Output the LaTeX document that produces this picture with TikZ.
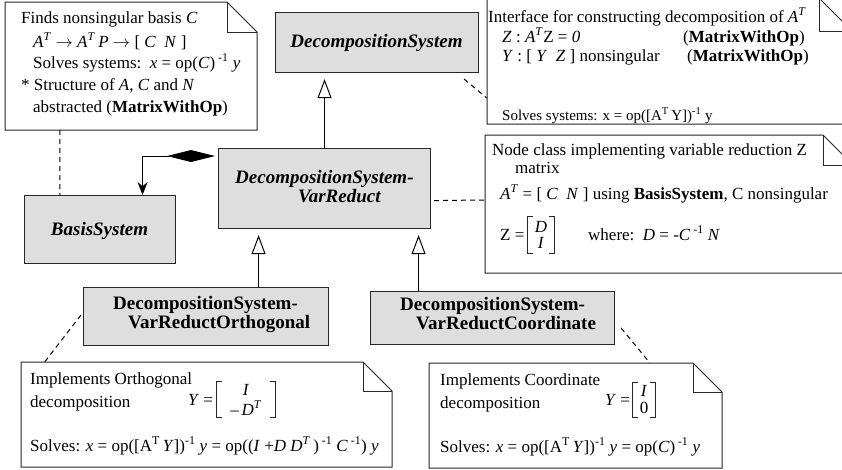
\documentclass[tikz,border=0pt]{standalone}
\usepackage{fontspec}
\setmainfont{Liberation Serif}
\usetikzlibrary{arrows.meta,fit}
\newcommand\umlnote[6]{%
  \draw[noteline] (#2,#3) -- (#4-#6,#3) -- (#4,#3+#6) -- (#4,#5) -- (#2,#5) -- cycle;
  \draw[notefold] (#4-#6,#3) -- (#4-#6,#3+#6) -- (#4,#3+#6);
  \path (#2,#3) coordinate (#1-nw) (#4,#5) coordinate (#1-se);
  \node[notebox, fit=(#1-nw)(#1-se)] (#1) {};
}
\newcommand\brackets[1]{%
  \draw[brk] ([xshift=5pt]#1.north west) -| (#1.south west) -- ++(5,0);
  \draw[brk] ([xshift=-5pt]#1.north east) -| (#1.south east) -- ++(-5,0);
}
\begin{document}
\begin{tikzpicture}[x=1pt,y=-1pt,
  cls/.style={draw=black!85, fill=black!13, line width=1.1pt, inner sep=0pt, anchor=north west},
  clsit/.style={font=\fontsize{19}{17}\selectfont\bfseries\itshape, inner sep=0pt, align=left, anchor=base west},
  clsbf/.style={font=\fontsize{19}{16}\selectfont\bfseries, inner sep=0pt, align=left, anchor=base west},
  ntxt/.style={font=\fontsize{17}{20}\selectfont, anchor=base west, inner sep=0pt},
  mtx/.style={inner sep=0pt, align=center},
  brk/.style={line width=0.9pt, draw=black!85},
  notebox/.style={draw=none, inner sep=0pt},
  noteline/.style={draw=black!85, line width=1pt, fill=white},
  notefold/.style={draw=black!85, line width=1pt},
  dep/.style={line width=1pt, dash pattern=on 5pt off 4pt},
  gen/.style={-{Triangle[open, length=19pt, width=14pt]}, line width=1pt, shorten >=6pt},
  comp/.style={{Diamond[length=48pt, width=12pt]}-{Stealth[length=13pt, width=10pt]}, line width=1pt, shorten <=3pt},
]
\useasboundingbox (0,0) rectangle (842,469);
\clip (0,0) rectangle (842,469);

% notes
\umlnote{ntl}{5}{2}{257}{130}{30}
\umlnote{ntr}{487}{-2}{852}{124}{33}
\umlnote{nmr}{485}{135}{853}{273}{30}
\umlnote{nbl}{21}{362}{392}{467}{29}
\umlnote{nbr}{429}{363}{722}{468}{29}

% classes
\node[cls, minimum width=203pt, minimum height=60pt] (ds) at (275,12) {};
\node[cls, minimum width=212pt, minimum height=80pt] (dsvr) at (218,148) {};
\node[cls, minimum width=151pt, minimum height=68pt] (bs) at (24,195) {};
\node[cls, minimum width=245pt, minimum height=58pt] (orth) at (83,287) {};
\node[cls, minimum width=244pt, minimum height=53pt] (coord) at (370,291) {};

\node[clsit, anchor=base] (dsT) at (376.5,47) {DecompositionSystem};
\node[clsit] (dsvrT) at (235,202) {DecompositionSystem-\\\hspace*{63pt}VarReduct};
\node[clsit, anchor=base] (bsT) at (99.5,235) {BasisSystem};
\node[clsbf] (orthT) at (113,328) {DecompositionSystem-\\\hspace*{15pt}VarReductOrthogonal};
\node[clsbf, font=\fontsize{19}{17}\selectfont\bfseries] (coordT) at (400,329) {DecompositionSystem-\\\hspace*{16pt}VarReductCoordinate};

% connectors
\draw[gen] (dsvr.north) -- (dsvr.north |- ds.south);
\draw[gen] ([xshift=52.5pt]orth.north) -- ([xshift=52.5pt]orth.north |- dsvr.south);
\draw[gen] ([xshift=-74pt]coord.north) -- ([xshift=-74pt]coord.north |- dsvr.south);
\draw[comp] ([yshift=-8pt]dsvr.north west) -| ([xshift=42.5pt]bs.north);
\draw[dep] ([xshift=55pt]ntl.south west) -- ([xshift=36pt]bs.north west);
\draw[dep] ([xshift=-15pt,yshift=-6pt]ds.south east) -- ([yshift=-37pt]ntr.west);
\draw[dep] ([xshift=3pt,yshift=-12pt]dsvr.east) -- ([yshift=4pt]nmr.west);
\draw[dep] ([xshift=-2pt,yshift=-28pt]orth.north west) -- ([xshift=24pt]nbl.north west);
\draw[dep] ([xshift=6pt,yshift=-37pt]coord.north east) -- ([xshift=221pt]nbr.north west);

% top-left note text
\node[ntxt] (tl1) at (21,23) {Finds nonsingular basis \textit{C}};
\node[ntxt] (tl2) at (33,47) {\textit{A}\textsuperscript{\textit{T}} $\rightarrow$ \textit{A}\textsuperscript{\textit{T}}\,\textit{P} $\rightarrow$ [ \textit{C}\ \ \textit{N} ]};
\node[ntxt] (tl3) at (33,68) {Solves systems:\ \ \textit{x} = op(\textit{C})\,\textsuperscript{-1} \textit{y}};
\node[ntxt] (tl4) at (21,90) {* Structure of \textit{A}, \textit{C} and \textit{N}};
\node[ntxt] (tl5) at (33,112) {abstracted (\textbf{MatrixWithOp})};

% top-right note text
\node[ntxt] (tr1) at (488,22) {Interface for constructing decomposition of \textit{A}\textsuperscript{\textit{T}}};
\node[ntxt] (tr2) at (502,42) {\textit{Z}\ : \textit{A}\textsuperscript{\textit{T}}Z = \textit{0}};
\node[ntxt] (tr2b) at (683,42) {(\textbf{MatrixWithOp})};
\node[ntxt] (tr3) at (502,61) {\textit{Y} : [ \textit{Y}\ \ \textit{Z} ] nonsingular};
\node[ntxt] (tr3b) at (687,61) {(\textbf{MatrixWithOp})};
\node[ntxt, font=\fontsize{15}{18}\selectfont] (tr4) at (502,120) {Solves systems: x = op([A\textsuperscript{T}\,Y])\textsuperscript{-1} y};

% middle-right note text
\node[ntxt] (mr1) at (492,155) {Node class implementing variable reduction Z};
\node[ntxt] (mr2) at (515,173) {matrix};
\node[ntxt] (mr3) at (500,199) {\textit{A}\textsuperscript{\textit{T}} = [ \textit{C}\ \ \textit{N} ] using \textbf{BasisSystem}, C nonsingular};
\node[ntxt] (mr4) at (500,240) {Z =};
\node[mtx, font=\fontsize{17}{16}\selectfont, minimum width=26pt, minimum height=36pt] (mz) at (541,235) {\textit{D}\\\textit{I}};
\brackets{mz}
\node[ntxt] (mr5) at (588,240) {where:\ \ \textit{D} = -\textit{C}\,\textsuperscript{-1} \textit{N}};

% bottom-left note text
\node[ntxt] (bl1) at (30,384) {Implements Orthogonal};
\node[ntxt] (bl2) at (30,407) {decomposition};
\node[ntxt] (bl3) at (188,405) {\textit{Y} =};
\node[mtx, font=\fontsize{17}{20}\selectfont, minimum width=58pt, minimum height=35pt] (my1) at (246,399.5) {\textit{I}\\--\,\textit{D}\textsuperscript{\textit{T}}};
\brackets{my1}
\node[ntxt] (bl4) at (30,451) {Solves: \textit{x} = op([A\textsuperscript{T}\,\textit{Y}])\textsuperscript{-1} \textit{y} = op((\textit{I} +\textit{D} \textit{D}\textsuperscript{\textit{T}}\,)\,\textsuperscript{-1} \textit{C}\,\textsuperscript{-1}) \textit{y}};

% bottom-right note text
\node[ntxt] (br1) at (440,385) {Implements Coordinate};
\node[ntxt] (br2) at (440,408) {decomposition};
\node[ntxt] (br3) at (605,405) {\textit{Y} =};
\node[mtx, font=\fontsize{17}{17}\selectfont, minimum width=22pt, minimum height=34pt] (my2) at (644,400) {\textit{I}\\0};
\brackets{my2}
\node[ntxt] (br4) at (440,452) {Solves: \textit{x} = op([A\textsuperscript{T}\,\textit{Y}])\textsuperscript{-1} \textit{y} = op(\textit{C})\,\textsuperscript{-1} \textit{y}};
\end{tikzpicture}
\end{document}
